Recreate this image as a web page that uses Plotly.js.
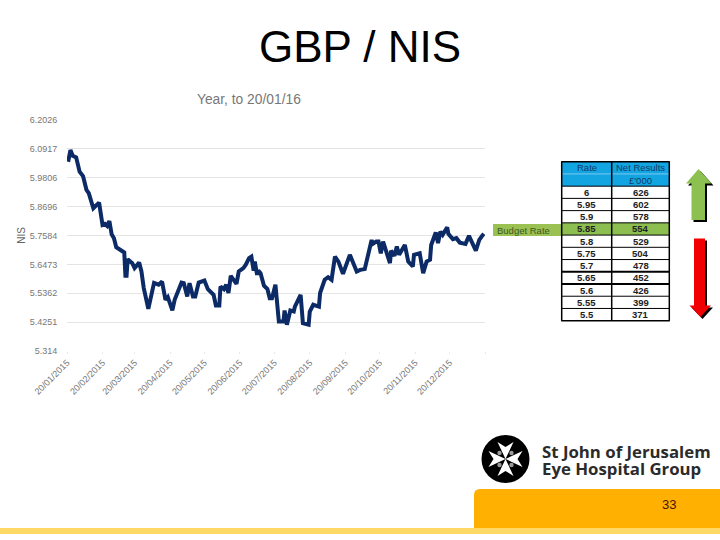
<!DOCTYPE html>
<html><head><meta charset="utf-8">
<script src="https://cdn.plot.ly/plotly-3.0.1.min.js"></script>
<style>html,body{margin:0;padding:0;background:#fff}</style></head>
<body><div id="c" style="width:720px;height:540px"></div>
<script>
const dates = ["2015-01-21","2015-01-23","2015-01-25","2015-01-28","2015-01-31","2015-02-03","2015-02-06","2015-02-08","2015-02-12","2015-02-17","2015-02-20","2015-02-22","2015-02-24","2015-02-26","2015-02-28","2015-03-02","2015-03-04","2015-03-07","2015-03-11","2015-03-12","2015-03-13","2015-03-14","2015-03-18","2015-03-20","2015-03-24","2015-03-26","2015-03-28","2015-04-01","2015-04-03","2015-04-06","2015-04-10","2015-04-13","2015-04-16","2015-04-18","2015-04-22","2015-04-24","2015-04-30","2015-05-02","2015-05-05","2015-05-07","2015-05-10","2015-05-12","2015-05-15","2015-05-20","2015-05-23","2015-05-28","2015-05-30","2015-06-02","2015-06-03","2015-06-06","2015-06-08","2015-06-10","2015-06-12","2015-06-17","2015-06-19","2015-06-23","2015-06-25","2015-06-28","2015-06-30","2015-07-02","2015-07-03","2015-07-05","2015-07-06","2015-07-08","2015-07-11","2015-07-14","2015-07-16","2015-07-18","2015-07-21","2015-07-24","2015-07-28","2015-07-29","2015-07-31","2015-08-03","2015-08-06","2015-08-07","2015-08-12","2015-08-14","2015-08-19","2015-08-20","2015-08-23","2015-08-28","2015-08-29","2015-09-02","2015-09-05","2015-09-08","2015-09-11","2015-09-14","2015-09-18","2015-09-24","2015-09-30","2015-10-03","2015-10-07","2015-10-13","2015-10-14","2015-10-17","2015-10-19","2015-10-21","2015-10-23","2015-10-29","2015-10-30","2015-11-02","2015-11-04","2015-11-06","2015-11-11","2015-11-14","2015-11-18","2015-11-19","2015-11-24","2015-11-27","2015-11-30","2015-12-03","2015-12-04","2015-12-08","2015-12-10","2015-12-12","2015-12-14","2015-12-18","2015-12-19","2015-12-23","2015-12-26","2015-12-29","2016-01-03","2016-01-06","2016-01-12","2016-01-15","2016-01-17","2016-01-19"];
const rates = [6.042,6.087,6.065,6.059,6.004,5.987,5.934,5.921,5.863,5.885,5.799,5.803,5.795,5.814,5.763,5.748,5.713,5.703,5.693,5.603,5.603,5.667,5.652,5.633,5.654,5.620,5.557,5.476,5.524,5.576,5.569,5.581,5.511,5.521,5.470,5.511,5.577,5.575,5.524,5.575,5.524,5.524,5.577,5.585,5.552,5.530,5.489,5.489,5.562,5.552,5.569,5.537,5.603,5.572,5.620,5.633,5.645,5.671,5.677,5.623,5.658,5.607,5.623,5.613,5.565,5.552,5.517,5.517,5.569,5.427,5.427,5.470,5.415,5.470,5.466,5.485,5.530,5.421,5.415,5.466,5.492,5.485,5.537,5.588,5.598,5.588,5.677,5.658,5.611,5.684,5.620,5.626,5.629,5.741,5.726,5.735,5.735,5.690,5.735,5.652,5.700,5.680,5.716,5.684,5.722,5.658,5.639,5.684,5.690,5.613,5.658,5.665,5.722,5.770,5.729,5.773,5.761,5.790,5.765,5.744,5.748,5.731,5.726,5.757,5.700,5.741,5.754,5.765];
const yTicks = [6.2026,6.0917,5.9806,5.8696,5.7584,5.6473,5.5362,5.4251,5.314];
const yLabels = ["6.2026","6.0917","5.9806","5.8696","5.7584","5.6473","5.5362","5.4251","5.314"];
const xTicks = ["2015-01-20","2015-02-20","2015-03-20","2015-04-20","2015-05-20","2015-06-20","2015-07-20","2015-08-20","2015-09-20","2015-10-20","2015-11-20","2015-12-20","2016-01-20"];
const xLabels = ["20/01/2015","20/02/2015","20/03/2015","20/04/2015","20/05/2015","20/06/2015","20/07/2015","20/08/2015","20/09/2015","20/10/2015","20/11/2015","20/12/2015",""];
const tableHeadA = ["Rate","Net Results"];
const tableHeadB = ["","£'000"];
const tableRates = ["6","5.95","5.9","5.85","5.8","5.75","5.7","5.65","5.6","5.55","5.5"];
const tableNet = ["626","602","578","554","529","504","478","452","426","399","371"];

const W=720,H=540;
const fx=x=>x/W, fy=y=>1-y/H;
const pth=pts=>"M"+pts.map(p=>fx(p[0])+","+fy(p[1])).join("L")+"Z";
const shift=(pts,d)=>pts.map(p=>[p[0]+d,p[1]+d]);
const rect=(x0,y0,x1,y1,c)=>({type:"rect",xref:"paper",yref:"paper",x0:fx(x0),x1:fx(x1),y0:fy(y0),y1:fy(y1),fillcolor:c,line:{width:0},layer:"above"});
const seg=(x0,y0,x1,y1,c,w)=>({type:"line",xref:"paper",yref:"paper",x0:fx(x0),x1:fx(x1),y0:fy(y0),y1:fy(y1),line:{color:c,width:w},layer:"above"});
const poly=(pts,c)=>({type:"path",xref:"paper",yref:"paper",path:pth(pts),fillcolor:c,line:{width:0},layer:"above"});
const disc=(x,y,r,c)=>({type:"circle",xref:"paper",yref:"paper",x0:fx(x-r),x1:fx(x+r),y0:fy(y+r),y1:fy(y-r),fillcolor:c,line:{width:0},layer:"above"});
const note=(t,x,y,size,color,fam,anchor)=>({text:t,xref:"paper",yref:"paper",x:fx(x),y:fy(y),xanchor:anchor||"center",yanchor:"middle",showarrow:false,font:{size:size,color:color,family:fam||"Liberation Sans"}});

const up=[[698.5,169],[711.5,183.5],[705,183.5],[705,220],[691.5,220],[691.5,183.5],[686,183.5]];
const down=[[694,238.5],[705,238.5],[705,305.5],[711,305.5],[700.5,317],[689.5,305.5],[694,305.5]];
const cx=505.5,cy=459;
const cross=[[0,0],[-8,-17],[0,-12],[8,-17],[0,0],[17,-8],[12,0],[17,8],[0,0],[8,17],[0,12],[-8,17],[0,0],[-17,8],[-12,0],[-17,-8]].map(p=>[cx+p[0],cy+p[1]]);
const orange="M"+fx(474)+","+fy(528)+"L"+fx(474)+","+fy(495)+"Q"+fx(474)+","+fy(489)+" "+fx(480)+","+fy(489)+"L1,"+fy(489)+"L1,"+fy(528)+"Z";

// table geometry, drawn from the table arrays
const tL=561.7,tM=611.7,tR=669.3,tT=161.7,rowH=12.23;
const rowY=k=>tT+rowH*k;
const nRows=tableRates.length+2;
const tableShapes=[rect(tL,rowY(0),tR,rowY(2),"#12A5E2"),rect(tL,rowY(5),tR,rowY(6),"#8CBF50"),seg(tL,rowY(1),tR,rowY(1),"#7FC8EE",1)];
for(let k=2;k<nRows;k++){const w=(k===9||k===10)?2:1;tableShapes.push(seg(tL,rowY(k),tR,rowY(k),"#000",w));}
tableShapes.push(seg(tL-0.5,rowY(0),tR+0.5,rowY(0),"#000",1.5),seg(tL-0.5,rowY(nRows),tR+0.5,rowY(nRows),"#000",1.5),
  seg(tL,rowY(0),tL,rowY(nRows),"#000",1.5),seg(tM,rowY(0),tM,rowY(nRows),"#000",1.5),seg(tR,rowY(0),tR,rowY(nRows),"#000",1.5));
const cA=(tL+tM)/2,cB=(tM+tR)/2,headCol="#123a66",bodyCol="#222";
const tableNotes=[
 note(tableHeadA[0],cA,rowY(0.5),9.5,headCol),note(tableHeadA[1],cB,rowY(0.5),9.5,headCol),
 note(tableHeadB[1],cB,rowY(1.5),9.5,headCol)
];
tableRates.forEach((r,i)=>{tableNotes.push(note("<b>"+r+"</b>",cA,rowY(i+2.5),9.5,bodyCol),note("<b>"+tableNet[i]+"</b>",cB,rowY(i+2.5),9.5,bodyCol));});

const shapes=[
 rect(493,224,tL,236,"#9BC153"),
 ...tableShapes,
 poly(shift(up,2),"#000"),poly(up,"#8CC152"),
 poly(shift(down,2),"#000"),poly(down,"#F00000"),
 disc(cx,cy,24,"#000"),
 poly(cross,"#fff"),
 disc(cx-6,cy-6,2.2,"#999"),disc(cx+6,cy-6,2.2,"#999"),disc(cx-6,cy+6,2.2,"#999"),disc(cx+6,cy+6,2.2,"#999"),
 {type:"path",xref:"paper",yref:"paper",path:orange,fillcolor:"#FFB000",line:{width:0},layer:"above"},
 rect(0,528,720,534,"#FFD966")
];
const annotations=[
 note("Year, to 20/01/16",249,99,13.8,"#777"),
 note("Budget Rate",495,230,9.5,"#3c5a20",null,"left"),
 note("<b>St John of Jerusalem</b>",539.5,451,16.8,"#2b2b2b","Open Sans","left"),
 note("<b>Eye Hospital Group</b>",539.5,468,16.8,"#2b2b2b","Open Sans","left"),
 note("33",669,504,13,"#4a1500"),
 ...tableNotes
];
const traces=[
 {type:"scatter",mode:"lines",x:dates,y:rates,line:{color:"#0B2A66",width:4},hoverinfo:"skip"}
];
const layout={
 width:W,height:H,autosize:false,margin:{l:0,r:0,t:0,b:0,pad:0},paper_bgcolor:"#fff",plot_bgcolor:"#fff",showlegend:false,
 title:{text:"GBP / NIS",x:0.5,xref:"paper",xanchor:"center",y:fy(47),yanchor:"middle",font:{family:"Liberation Sans",size:44,color:"#000"}},
 font:{family:"Liberation Sans",color:"#777"},
 xaxis:{type:"date",domain:[fx(67),fx(485)],range:["2015-01-20","2016-01-20"],tickmode:"array",tickvals:xTicks,ticktext:xLabels,tickangle:-45,showgrid:false,zeroline:false,showline:false,ticks:"outside",ticklen:2,tickcolor:"#e8e8e8",tickfont:{size:9,color:"#777"},automargin:false},
 yaxis:{domain:[fy(351),fy(120)],range:[5.314,6.2026],tickmode:"array",tickvals:yTicks,ticktext:yLabels,showgrid:true,gridcolor:"#e4e4e4",gridwidth:1,zeroline:false,showline:false,ticks:"outside",ticklen:7,tickcolor:"rgba(0,0,0,0)",tickfont:{size:9,color:"#777"},automargin:false,
  title:{text:"NIS",font:{size:10,color:"#666"},standoff:2}},
 shapes:shapes,annotations:annotations
};
Plotly.newPlot("c",traces,layout,{displayModeBar:false,staticPlot:true});
</script></body></html>
